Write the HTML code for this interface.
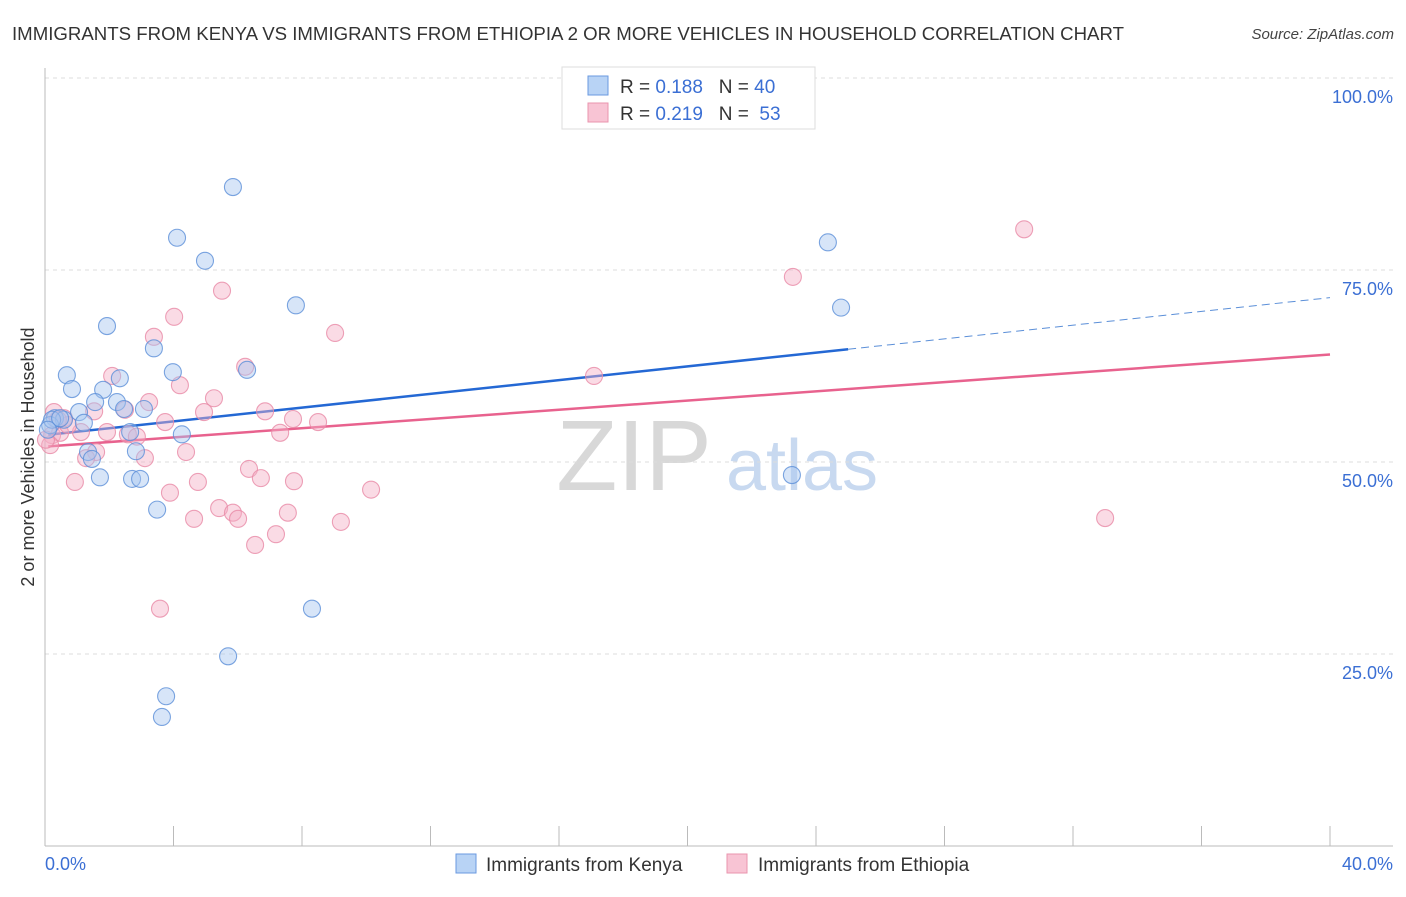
<!DOCTYPE html>
<html><head><meta charset="utf-8"><style>
body{margin:0;background:#fff;font-family:"Liberation Sans",sans-serif}
svg text{font-family:"Liberation Sans",sans-serif}
</style></head><body>
<svg id="chart" width="1406" height="892" xmlns="http://www.w3.org/2000/svg">
<text x="12" y="40" font-size="18" fill="#333" textLength="1112" lengthAdjust="spacingAndGlyphs">IMMIGRANTS FROM KENYA VS IMMIGRANTS FROM ETHIOPIA 2 OR MORE VEHICLES IN HOUSEHOLD CORRELATION CHART</text>
<text x="1394" y="39" font-size="15" fill="#444" text-anchor="end" font-style="italic">Source: ZipAtlas.com</text>
<g>
<text x="634" y="490" font-size="100" fill="#d8d8d8" font-family="Liberation Serif" text-anchor="middle">ZIP</text>
<text x="802" y="490" font-size="72" fill="#c8d9f0" text-anchor="middle">atlas</text>
</g>
<g id="grid"></g><g id="axes"></g><g id="lines"></g><g id="points"></g>
<text transform="translate(34,457) rotate(-90)" font-size="18" fill="#333" text-anchor="middle">2 or more Vehicles in Household</text>
<text x="45" y="870" font-size="18" fill="#3b6fd4">0.0%</text>
<text x="1393" y="870" font-size="18" fill="#3b6fd4" text-anchor="end">40.0%</text>
<g>
<rect x="562" y="67" width="253" height="62" fill="#fff" stroke="#ddd"/>
<rect x="588" y="76" width="20" height="19" fill="#b8d3f5" stroke="#6a9ae0"/>
<rect x="588" y="103" width="20" height="19" fill="#f8c4d4" stroke="#ea94ae"/>
<text x="620" y="93" font-size="19" fill="#333" xml:space="preserve">R = <tspan fill="#3b6fd4">0.188</tspan>   N = <tspan fill="#3b6fd4">40</tspan></text>
<text x="620" y="120" font-size="19" fill="#333" xml:space="preserve">R = <tspan fill="#3b6fd4">0.219</tspan>   N =  <tspan fill="#3b6fd4">53</tspan></text>
</g>
<g>
<rect x="456" y="854" width="20" height="19" fill="#b8d3f5" stroke="#6a9ae0"/>
<text x="486" y="871" font-size="19" fill="#333">Immigrants from Kenya</text>
<rect x="727" y="854" width="20" height="19" fill="#f8c4d4" stroke="#ea94ae"/>
<text x="758" y="871" font-size="19" fill="#333">Immigrants from Ethiopia</text>
</g>
</svg>
<script>
const yTicks=[25,50,75,100];
const yTickLabels=["25.0%","50.0%","75.0%","100.0%"];
const xTicks=[0,4,8,12,16,20,24,28,32,36,40];
const kenyaX=[5.85,4.11,4.98,7.81,1.93,3.39,0.68,2.33,3.98,6.29,0.84,1.81,1.56,2.24,2.46,3.08,1.06,0.31,0.59,1.21,0.16,2.65,4.26,1.34,2.83,1.46,1.71,2.71,2.96,3.49,5.70,3.77,3.64,8.31,24.37,24.78,23.25,0.22,0.47,0.09];
const kenyaY=[85.8,79.2,76.2,70.4,67.7,64.8,61.3,60.9,61.7,62.0,59.5,59.4,57.8,57.8,56.9,56.9,56.5,55.7,55.5,55.1,54.8,53.9,53.6,51.3,51.4,50.4,48.0,47.8,47.8,43.8,24.7,19.5,16.8,30.9,78.6,70.1,48.3,55.5,55.7,54.2];
const ethX=[30.48,23.28,5.51,4.02,9.03,3.39,6.23,2.09,4.20,17.09,5.26,3.24,4.95,6.85,2.49,1.53,7.72,8.50,3.74,0.28,0.59,1.12,1.93,2.58,2.86,7.32,0.22,0.47,1.59,1.28,4.39,3.11,6.35,6.72,7.75,0.93,4.76,3.89,10.15,5.42,5.85,6.01,7.56,4.64,9.21,7.19,6.54,3.58,33.00,0.16,0.03,0.72,0.40];
const ethY=[80.3,74.1,72.3,68.9,66.8,66.3,62.4,61.2,60.0,61.2,58.3,57.8,56.5,56.6,56.8,56.6,55.6,55.2,55.2,56.5,55.7,53.9,53.9,53.6,53.3,53.8,53.5,53.8,51.3,50.5,51.3,50.5,49.1,47.9,47.5,47.4,47.4,46.0,46.4,44.0,43.4,42.6,43.4,42.6,42.2,40.6,39.2,30.9,42.7,52.2,52.9,54.8,55.5];
const kenyaTrend=[53.5,0.4475]; // intercept, slope
const ethTrend=[52.0,0.3];
const NS="http://www.w3.org/2000/svg";
const X=v=>45+v/40*1285, Y=v=>846-v/100*768;
function mk(tag,attrs,parent){const e=document.createElementNS(NS,tag);for(const k in attrs)e.setAttribute(k,attrs[k]);document.getElementById(parent).appendChild(e);return e;}
yTicks.forEach((t,i)=>{
 const l=mk('line',{x1:45,x2:1393,y1:Y(t),y2:Y(t),stroke:'#ddd','stroke-dasharray':'4,4'},'grid');
 
 
 const tx=mk('text',{x:1393,y:Y(t)+25,'font-size':18,fill:'#3b6fd4','text-anchor':'end'},'grid');
 tx.textContent=yTickLabels[i];
 
 
});
let a=mk('line',{x1:45,x2:45,y1:68,y2:846,stroke:'#bbb'},'axes');


a=mk('line',{x1:45,x2:1393,y1:846,y2:846,stroke:'#bbb'},'axes');


xTicks.forEach(t=>{const k=mk('line',{x1:X(t),x2:X(t),y1:826,y2:846,stroke:'#bbb'},'axes');
 
 });
function dots(xs,ys,fill,stroke,name){xs.forEach((x,i)=>{const c=mk('circle',{cx:X(x),cy:Y(ys[i]),r:8.5,fill:fill,'fill-opacity':0.45,stroke:stroke,'stroke-opacity':0.8,'stroke-width':1.1},'points');
 
 });}
dots(ethX,ethY,'#f4b0c6','#e88aa6','point-ethiopia');
dots(kenyaX,kenyaY,'#a6c6f0','#5b8fd8','point-kenya');
let t1=mk('line',{x1:X(0.1),y1:Y(kenyaTrend[0]+kenyaTrend[1]*0.1),x2:X(25),y2:Y(kenyaTrend[0]+kenyaTrend[1]*25),stroke:'#2468d4','stroke-width':2.5},'lines');


let t2=mk('line',{x1:X(25),y1:Y(kenyaTrend[0]+kenyaTrend[1]*25),x2:X(40),y2:Y(kenyaTrend[0]+kenyaTrend[1]*40),stroke:'#5b8fd8','stroke-width':1,'stroke-dasharray':'8,5'},'lines');


let t3=mk('line',{x1:X(0.1),y1:Y(ethTrend[0]+ethTrend[1]*0.1),x2:X(40),y2:Y(ethTrend[0]+ethTrend[1]*40),stroke:'#e8628e','stroke-width':2.5},'lines');


</script>
</body></html>
